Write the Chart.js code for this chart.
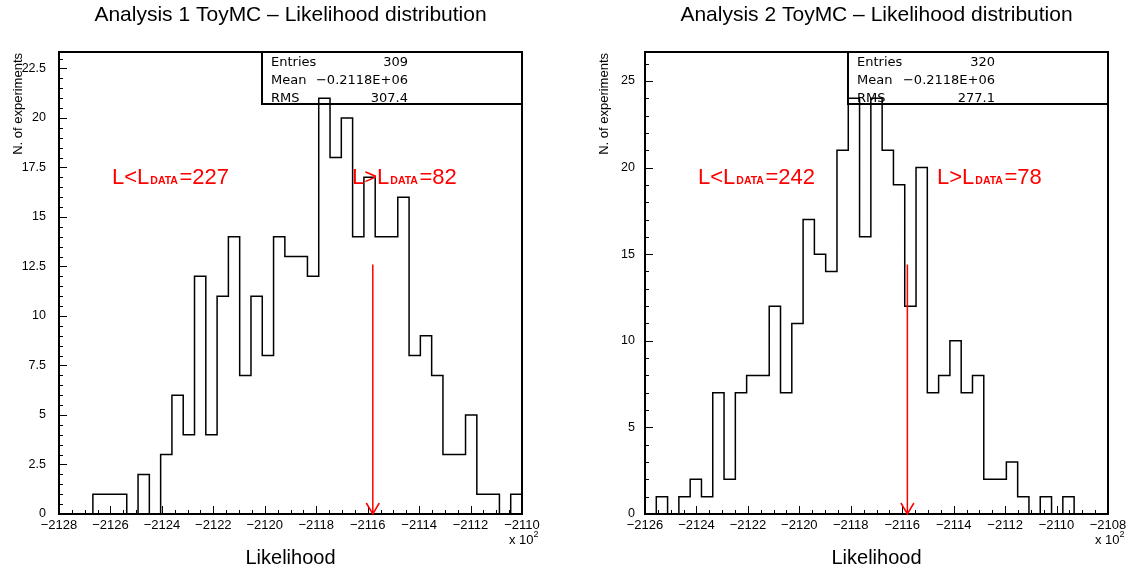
<!DOCTYPE html>
<html>
<head>
<meta charset="utf-8">
<script src="https://cdn.jsdelivr.net/npm/chart.js@4.4.1/dist/chart.umd.min.js"></script>
<style>
  html, body { margin: 0; padding: 0; background: #fff; }
  #wrap { position: relative; width: 1128px; height: 569px; background: #fff; }
  .pane { position: absolute; top: 0; width: 564px; height: 569px; }
</style>
</head>
<body>
<div id="wrap">
  <div class="pane" style="left:0"><canvas id="c1" width="564" height="569"></canvas></div>
  <div class="pane" style="left:564px"><canvas id="c2" width="564" height="569"></canvas></div>
</div>
<script>
/* ToyMC likelihood histograms — two pads, 41 bins each */

const FONT = "'Liberation Sans', Arial, sans-serif";
const STAT_FONT = "'DejaVu Sans', sans-serif";

// bin contents (x axis in units of 10^2)
const counts1 = [0, 0, 0, 1, 1, 1, 0, 2, 0, 3, 6, 4, 12, 4, 11, 14, 7, 11, 8, 14,
  13, 13, 12, 21, 18, 20, 14, 17, 14, 14, 16, 8, 9, 7, 3, 3, 5, 1, 1, 0, 1];
const counts2 = [0, 1, 0, 1, 2, 1, 7, 2, 7, 8, 8, 12, 7, 11, 17, 15, 14, 21, 24, 16,
  24, 21, 19, 12, 20, 7, 8, 10, 7, 8, 2, 2, 3, 1, 0, 1, 0, 1, 0, 0, 0];

const range1 = [-2128, -2110];
const range2 = [-2126, -2108];

const xTicks1 = [-2128, -2126, -2124, -2122, -2120, -2118, -2116, -2114, -2112, -2110];
const xTicks2 = [-2126, -2124, -2122, -2120, -2118, -2116, -2114, -2112, -2110, -2108];
const yTicks1 = [0, 2.5, 5, 7.5, 10, 12.5, 15, 17.5, 20, 22.5];
const yTicks2 = [0, 5, 10, 15, 20, 25];
const yMax1 = 23.33;
const yMax2 = 26.67;

const stats1 = [['Entries', '309'], ['Mean', '\u22120.2118E+06'], ['RMS', '307.4']];
const stats2 = [['Entries', '320'], ['Mean', '\u22120.2118E+06'], ['RMS', '277.1']];

const lData = [-2115.8, -2115.8];   // position of L_DATA
const arrowTop = [12.6, 14.4];
const nBelow = [227, 242];
const nAbove = [82, 78];

function histPoints(range, counts) {
  const w = (range[1] - range[0]) / counts.length;
  const pts = counts.map((c, i) => ({ x: range[0] + i * w, y: c }));
  pts.push({ x: range[1], y: counts[counts.length - 1] });
  return pts;
}

const fmtX = (v) => (v < 0 ? '\u2212' + Math.abs(v) : String(v));

function redLabel(ctx, x, y, op, n) {
  ctx.fillStyle = '#ff0000';
  ctx.textAlign = 'left';
  ctx.textBaseline = 'alphabetic';
  ctx.font = `22px ${FONT}`;
  const a = 'L' + op + 'L';
  ctx.fillText(a, x, y);
  let cx = x + ctx.measureText(a).width + 1;
  ctx.font = `bold 10.5px ${FONT}`;
  ctx.fillText('DATA', cx, y);
  cx += ctx.measureText('DATA').width + 1.5;
  ctx.font = `22px ${FONT}`;
  ctx.fillText('=' + n, cx, y);
}

function decor(p) {
  return {
    id: 'decor' + p.idx,
    beforeDatasetsDraw(chart) {
      const ctx = chart.ctx;
      const { top, right } = chart.chartArea;
      // stats box
      ctx.save();
      ctx.fillStyle = '#fff';
      ctx.fillRect(p.boxLeft, top, right - p.boxLeft, 52);
      ctx.strokeStyle = '#000';
      ctx.lineWidth = 2;
      ctx.strokeRect(p.boxLeft, top, right - p.boxLeft, 52);
      ctx.fillStyle = '#000';
      ctx.font = `13px ${STAT_FONT}`;
      ctx.textBaseline = 'alphabetic';
      p.stats.forEach(([k, v], i) => {
        const y = top + 14 + i * 18;
        ctx.textAlign = 'left';
        ctx.fillText(k, p.boxLeft + 9, y);
        ctx.textAlign = 'right';
        ctx.fillText(v, p.boxLeft + p.valRight, y);
      });
      ctx.restore();
    },
    afterDatasetsDraw(chart) {
      const ctx = chart.ctx;
      const { left, right, top, bottom } = chart.chartArea;
      const xs = chart.scales.x;
      const ys = chart.scales.y;
      ctx.save();
      // frame
      ctx.strokeStyle = '#000';
      ctx.lineWidth = 2;
      ctx.strokeRect(left, top, right - left, bottom - top);
      // tick marks inside the frame
      ctx.lineWidth = 1;
      ctx.beginPath();
      for (let v = p.range[0]; v <= p.range[1] + 1e-9; v += 0.5) {
        const px = Math.round(xs.getPixelForValue(v)) + 0.5;
        const len = p.xTicks.includes(v) ? 8 : 4;
        ctx.moveTo(px, bottom);
        ctx.lineTo(px, bottom - len);
      }
      for (let v = 0; v <= p.yMax; v += p.yMinor) {
        const py = Math.round(ys.getPixelForValue(v)) + 0.5;
        const len = p.yTicks.some((t) => Math.abs(t - v) < 1e-6) ? 8 : 4;
        ctx.moveTo(left, py);
        ctx.lineTo(left + len, py);
      }
      ctx.stroke();
      // arrow at L_DATA
      const ax = xs.getPixelForValue(p.lData);
      const ay = ys.getPixelForValue(p.arrowTop);
      ctx.strokeStyle = '#ff0000';
      ctx.lineWidth = 1.5;
      ctx.beginPath();
      ctx.moveTo(ax, ay);
      ctx.lineTo(ax, bottom);
      ctx.moveTo(ax - 6.5, bottom - 11);
      ctx.lineTo(ax, bottom);
      ctx.lineTo(ax + 6.5, bottom - 11);
      ctx.stroke();
      redLabel(ctx, p.lowX, 184, '<', p.nBelow);
      redLabel(ctx, p.highX, 184, '>', p.nAbove);
      ctx.restore();
    },
    afterDraw(chart) {
      const ctx = chart.ctx;
      const { left, right, top } = chart.chartArea;
      const cx = (left + right) / 2;
      ctx.save();
      ctx.fillStyle = '#000';
      ctx.textBaseline = 'alphabetic';
      ctx.textAlign = 'center';
      ctx.font = `21px ${FONT}`;
      ctx.fillText(p.title, cx, 21);
      ctx.font = `20px ${FONT}`;
      ctx.fillText('Likelihood', cx, 564);
      ctx.textAlign = 'left';
      ctx.font = `13px ${FONT}`;
      ctx.fillText('x 10', right - 13, 544);
      const w = ctx.measureText('x 10').width;
      ctx.font = `9px ${FONT}`;
      ctx.fillText('2', right - 13 + w, 537);
      // y title, rotated, aligned to top of axis
      ctx.translate(left - 41, top + 1);
      ctx.rotate(-Math.PI / 2);
      ctx.textAlign = 'right';
      ctx.textBaseline = 'middle';
      ctx.font = `13px ${FONT}`;
      ctx.fillText('N. of experiments', 0, 0);
      ctx.restore();
    },
  };
}

function makeChart(id, p) {
  return new Chart(document.getElementById(id), {
    type: 'line',
    data: {
      datasets: [{
        data: histPoints(p.range, p.counts),
        stepped: 'before',
        borderColor: '#000',
        borderWidth: 1.5,
        pointRadius: 0,
        fill: false,
      }],
    },
    options: {
      responsive: false,
      animation: false,
      layout: { padding: { top: 52, right: p.padRight, bottom: 0, left: 0 } },
      plugins: { legend: { display: false }, tooltip: { enabled: false } },
      scales: {
        x: {
          type: 'linear',
          min: p.range[0],
          max: p.range[1],
          afterBuildTicks: (s) => { s.ticks = p.xTicks.map((v) => ({ value: v })); },
          afterFit: (s) => { s.height = 55; s.paddingLeft = 0; s.paddingRight = 0; },
          grid: { display: false, drawTicks: false },
          border: { display: false },
          ticks: {
            autoSkip: false, maxRotation: 0, padding: 4, color: '#000',
            font: { family: FONT, size: 13 },
            callback: (v) => fmtX(v),
          },
        },
        y: {
          min: 0,
          max: p.yMax,
          afterBuildTicks: (s) => { s.ticks = p.yTicks.map((v) => ({ value: v })); },
          afterFit: (s) => { s.width = p.yWidth; s.paddingTop = 0; s.paddingBottom = 0; },
          grid: { display: false, drawTicks: false },
          border: { display: false },
          ticks: {
            padding: p.yPad, color: '#000',
            font: { family: FONT, size: 12.5 },
            callback: (v) => String(v),
          },
        },
      },
    },
    plugins: [decor(p)],
  });
}

makeChart('c1', {
  idx: 1,
  title: 'Analysis 1 ToyMC \u2013 Likelihood distribution',
  counts: counts1, range: range1, xTicks: xTicks1, yTicks: yTicks1,
  yMax: yMax1, yMinor: 0.5, yWidth: 59, padRight: 42, yPad: 13,
  stats: stats1, boxLeft: 262, valRight: 146,
  lData: lData[0], arrowTop: arrowTop[0], nBelow: nBelow[0], nAbove: nAbove[0],
  lowX: 112, highX: 352,
});

makeChart('c2', {
  idx: 2,
  title: 'Analysis 2 ToyMC \u2013 Likelihood distribution',
  counts: counts2, range: range2, xTicks: xTicks2, yTicks: yTicks2,
  yMax: yMax2, yMinor: 1, yWidth: 81, padRight: 20, yPad: 10,
  stats: stats2, boxLeft: 284, valRight: 147,
  lData: lData[1], arrowTop: arrowTop[1], nBelow: nBelow[1], nAbove: nAbove[1],
  lowX: 134, highX: 373,
});
</script>
</body>
</html>
